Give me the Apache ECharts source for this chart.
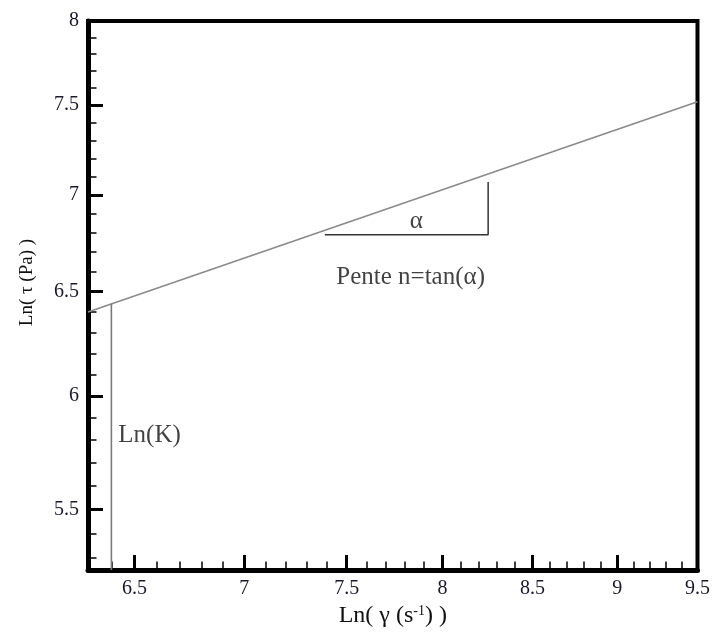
<!DOCTYPE html>
<html>
<head>
<meta charset="utf-8">
<script src="https://cdn.jsdelivr.net/npm/echarts@6/dist/echarts.min.js"></script>
<style>
  html, body { margin: 0; padding: 0; background: #fff; }
  #chart { width: 713px; height: 633px; }
</style>
</head>
<body>
<div id="chart"></div>
<script>
// axes (both logarithmic)
var xMin = 6.3, xMax = 9.5;
var yMin = 5.25, yMax = 8;
var xTicks = [6.5, 7, 7.5, 8, 8.5, 9, 9.5];
var yTicks = [5.5, 6, 6.5, 7, 7.5, 8];

// droite Ln(tau) = f(Ln(gamma))
var lineX = [6.3, 9.5];
var lineY = [6.40, 7.52];

// segment Ln(K)
var kX = [6.4, 6.4];
var kY = [5.25, 6.44];

// triangle de pente
var triX = [7.39, 8.25, 8.25];
var triY = [6.79, 6.79, 7.07];

// textes
var noteNames = ["α", "Pente n=tan(α)", "Ln(K)"];
var noteX = [7.86, 7.83, 6.43];
var noteY = [6.86, 6.57, 5.82];

// petites graduations (pas de 0.1)
function minorTicks(lo, hi, major) {
    var out = [];
    for (var i = Math.ceil(lo * 10); i <= Math.floor(hi * 10); i++) {
        var v = i / 10;
        if (major.indexOf(v) < 0) out.push(v);
    }
    return out;
}
var xMinor = minorTicks(xMin, xMax, xTicks);
var yMinor = minorTicks(yMin, yMax, yTicks);

var pair = function (xs, ys) {
    return xs.map(function (x, i) { return [x, ys[i]]; });
};

var font = "Liberation Serif";
var labelColor = "#1a1a2c";

var myChart = echarts.init(document.getElementById("chart"));

var majorAxis = function (lo, hi, ticks, pos) {
    return {
        type: "log",
        logBase: 10,
        min: lo,
        max: hi,
        position: pos,
        axisLine: { show: true, lineStyle: { color: "#000", width: 5 } },
        axisTick: { show: true, inside: true, length: 15, customValues: ticks,
            lineStyle: { color: "#000", width: 3 } },
        axisLabel: { show: true, customValues: ticks, margin: 9,
            fontFamily: font, fontSize: 20, color: labelColor,
            formatter: function (v) { return String(Math.round(v * 10) / 10); } },
        splitLine: { show: false },
        minorTick: { show: false }
    };
};
var minorAxis = function (lo, hi, ticks, pos) {
    return {
        type: "log",
        logBase: 10,
        min: lo,
        max: hi,
        position: pos,
        axisLine: { show: false },
        axisTick: { show: true, inside: true, length: 8.5, customValues: ticks,
            lineStyle: { color: "#000", width: 1.5 } },
        axisLabel: { show: false },
        splitLine: { show: false }
    };
};

var xMain = majorAxis(xMin, xMax, xTicks, "bottom");
xMain.name = "Ln( γ (s{sup|-1}) )";
xMain.nameLocation = "middle";
xMain.nameGap = 28;
xMain.nameTextStyle = {
    fontFamily: font, fontSize: 24, color: "#111",
    rich: { sup: { fontFamily: font, fontSize: 14, verticalAlign: "top", padding: [0, 0, 10, 0] } }
};

var yMain = majorAxis(yMin, yMax, yTicks, "left");
yMain.name = "Ln( τ (Pa) )";
yMain.nameLocation = "middle";
yMain.nameGap = 51;
yMain.nameTextStyle = {
    fontFamily: font, fontSize: 19, color: "#111", padding: [0, 0, 0, 26]
};

var option = {
    animation: false,
    backgroundColor: "#fff",
    grid: {
        left: 88, right: 13, top: 21, bottom: 57,
        show: true, borderColor: "#000", borderWidth: 4, backgroundColor: "transparent"
    },
    xAxis: [xMain, minorAxis(xMin, xMax, xMinor, "bottom")],
    yAxis: [yMain, minorAxis(yMin, yMax, yMinor, "left")],
    series: [
        {
            type: "line",
            data: pair(lineX, lineY),
            symbol: "none",
            lineStyle: { color: "#8a8a8a", width: 1.6 }
        },
        {
            type: "line",
            data: pair(kX, kY),
            symbol: "none",
            lineStyle: { color: "#7a7a7a", width: 1.6 }
        },
        {
            type: "line",
            data: pair(triX, triY),
            symbol: "none",
            lineStyle: { color: "#333", width: 1.5 }
        },
        {
            type: "scatter",
            symbolSize: 0,
            data: noteNames.map(function (n, i) {
                return {
                    name: n,
                    value: [noteX[i], noteY[i]],
                    label: {
                        position: i === 2 ? "right" : "inside",
                        distance: 0
                    }
                };
            }),
            label: {
                show: true,
                formatter: "{b}",
                fontFamily: font,
                fontSize: 25,
                color: "#111"
            }
        }
    ]
};

myChart.setOption(option);
</script>
</body>
</html>
